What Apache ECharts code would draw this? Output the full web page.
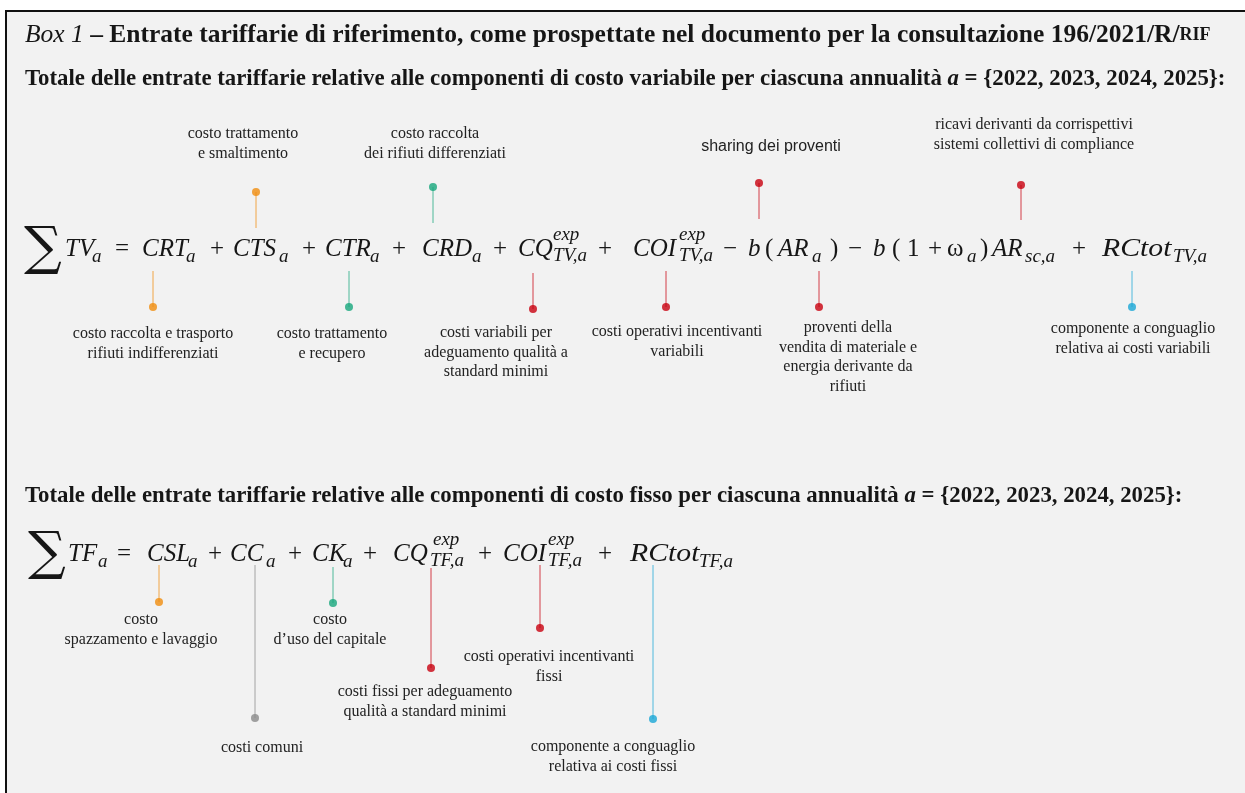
<!DOCTYPE html>
<html><head><meta charset="utf-8">
<script src="https://cdn.jsdelivr.net/npm/echarts@6/dist/echarts.min.js"></script>
<style>html,body{margin:0;padding:0;background:#fff}#c{width:1245px;height:793px}</style>
</head><body><div id="c"></div>
<script>
// ---------------- DATA ----------------
// Formula 1 (variable costs): tokens, kinds and their x value on the hidden axis
const f1Tokens = ['∑','TV','a','=','CRT','a','+','CTS','a','+','CTR','a','+','CRD','a','+','CQ','exp','TV,a','+','COI','exp','TV,a','−','b','(','AR','a',')','−','b','(','1','+','ω','a',')','AR','sc,a','+','RCtot','TV,a'];
const f1Kinds  = ['sum','m','sub','op','m','sub','op','m','sub','op','m','sub','op','m','sub','op','m','sup','ssub','op','m','sup','ssub','op','m','op','m','sub','op','op','m','op','op','op','w','sub','op','m','sub','op','mw','sub'];
const f1X      = [24,65,92,115,142,186,210,233,279,302,325,370,392,422,472,493,518,553,553,598,633,679,679,723,748,765,778,812,830,848,873,892,907,928,947,967,980,992,1025,1072,1102,1173];
const f1Base   = 257;
// Formula 2 (fixed costs)
const f2Tokens = ['∑','TF','a','=','CSL','a','+','CC','a','+','CK','a','+','CQ','exp','TF,a','+','COI','exp','TF,a','+','RCtot','TF,a'];
const f2Kinds  = ['sum','m','sub','op','m','sub','op','m','sub','op','m','sub','op','m','sup','ssub','op','m','sup','ssub','op','mw','sub'];
const f2X      = [28,68,98,117,147,188,208,230,266,288,312,343,363,393,433,430,478,503,548,548,598,630,699];
const f2Base   = 562;

// Annotations: label, anchor x, dot y, connector end y, label centre x, first line y, colour group
const annLabels = [
  'costo trattamento\ne smaltimento',
  'costo raccolta\ndei rifiuti differenziati',
  'sharing dei proventi',
  'ricavi derivanti da corrispettivi\nsistemi collettivi di compliance',
  'costo raccolta e trasporto\nrifiuti indifferenziati',
  'costo trattamento\ne recupero',
  'costi variabili per\nadeguamento qualità a\nstandard minimi',
  'costi operativi incentivanti\nvariabili',
  'proventi della\nvendita di materiale e\nenergia derivante da\nrifiuti',
  'componente a conguaglio\nrelativa ai costi variabili',
  'costo\nspazzamento e lavaggio',
  'costi comuni',
  'costo\nd’uso del capitale',
  'costi fissi per adeguamento\nqualità a standard minimi',
  'costi operativi incentivanti\nfissi',
  'componente a conguaglio\nrelativa ai costi fissi'
];
const annAnchorX = [256,433,759,1021,153,349,533,666,819,1132,159,255,333,431,540,653];
const annDotY    = [192,187,183,185,307,307,309,307,307,307,602,718,603,668,628,719];
const annEndY    = [228,223,219,220,271,271,273,271,271,271,565,565,567,568,565,565];
const annLabelX  = [243,435,771,1034,153,332,496,677,848,1133,141,262,330,425,549,613];
const annLabelY  = [134,134,147,125,334,334,333,332,328,329,620,748,620,692,657,747];
const annGroup   = ['orange','teal','red','red','orange','teal','red','red','red','blue','orange','gray','teal','red','red','blue'];
const annSans    = [false,false,true,false,false,false,false,false,false,false,false,false,false,false,false,false];

const titleText = 'Entrate tariffarie di riferimento, come prospettate nel documento per la consultazione 196/2021/R/';
const sub1Text = 'Totale delle entrate tariffarie relative alle componenti di costo variabile per ciascuna annualità ';
const sub2Text = 'Totale delle entrate tariffarie relative alle componenti di costo fisso per ciascuna annualità ';
const yearsText = ' = {2022, 2023, 2024, 2025}:';

// ---------------- STYLE ----------------
const groupColors = {orange:'#f08c0c', teal:'#17a67c', red:'#c8000f', blue:'#19a6d6', gray:'#8a8a8a'};
const ink = '#161616';
const SERIF = '"Liberation Serif", "Times New Roman", serif';
const kindStyle = {
  sum: {size:53, italic:false, dy:10, sx:1},
  m:   {size:25, italic:true,  dy:0,  sx:1},
  mw:  {size:25, italic:true,  dy:0,  sx:1.19},
  w:   {size:25, italic:false, dy:0,  sx:1},
  op:  {size:25, italic:false, dy:0,  sx:1},
  sub: {size:19, italic:true,  dy:6,  sx:1},
  sup: {size:19, italic:true,  dy:-16,sx:1},
  ssub:{size:19, italic:true,  dy:5,  sx:1}
};

function tokenData(tokens, kinds, xs, base){
  return tokens.map((t,i)=>({value:[xs[i], base], name:t, kind:kinds[i]}));
}
const allTokens = tokenData(f1Tokens,f1Kinds,f1X,f1Base).concat(tokenData(f2Tokens,f2Kinds,f2X,f2Base));

const chart = echarts.init(document.getElementById('c'), null, {renderer:'canvas'});
const option = {
  backgroundColor:'#ffffff',
  animation:false,
  grid:{left:0,right:0,top:0,bottom:0},
  xAxis:{type:'value',min:0,max:1245,show:false},
  yAxis:{type:'value',min:0,max:793,inverse:true,show:false},
  graphic:[
    {type:'rect', shape:{x:5,y:10,width:1240,height:783}, style:{fill:'#f2f2f2'}, z:-10},
    {type:'line', shape:{x1:5,y1:11,x2:1245,y2:11}, style:{stroke:'#111',lineWidth:2}, z:-9},
    {type:'line', shape:{x1:6,y1:10,x2:6,y2:793}, style:{stroke:'#111',lineWidth:2}, z:-9}
  ],
  title:[
    {left:25, top:22, padding:0, text:'{i|Box 1} – '+titleText+'{sc|RIF}',
     textStyle:{fontFamily:SERIF,fontSize:25.5,fontWeight:'bold',color:ink,
       rich:{i:{fontFamily:SERIF,fontSize:25.5,fontStyle:'italic',fontWeight:'normal',color:ink},
             sc:{fontFamily:SERIF,fontSize:18,fontWeight:'bold',color:ink}}}},
    {left:25, top:68, padding:0, text:sub1Text+'{i|a}'+yearsText,
     textStyle:{fontFamily:SERIF,fontSize:22.8,fontWeight:'bold',color:ink,
       rich:{i:{fontFamily:SERIF,fontSize:22.8,fontStyle:'italic',fontWeight:'bold',color:ink}}}},
    {left:25, top:485, padding:0, text:sub2Text+'{i|a}'+yearsText,
     textStyle:{fontFamily:SERIF,fontSize:22.8,fontWeight:'bold',color:ink,
       rich:{i:{fontFamily:SERIF,fontSize:22.8,fontStyle:'italic',fontWeight:'bold',color:ink}}}}
  ],
  series:[
    { // connectors
      type:'custom', coordinateSystem:'cartesian2d', silent:true,
      data: annAnchorX.map((x,i)=>[x, annDotY[i], annEndY[i]]),
      renderItem:function(params, api){
        const a = api.coord([api.value(0), api.value(1)]);
        const b = api.coord([api.value(0), api.value(2)]);
        return {type:'line', shape:{x1:a[0],y1:a[1],x2:b[0],y2:b[1]},
          style:{stroke:groupColors[annGroup[params.dataIndex]], lineWidth:1, opacity:0.75}};
      }
    },
    { // dots
      type:'scatter', symbol:'circle', symbolSize:8, silent:true, z:3,
      data: annAnchorX.map((x,i)=>[x, annDotY[i]]),
      itemStyle:{color:function(p){return groupColors[annGroup[p.dataIndex]];}}
    },
    { // annotation labels
      type:'custom', coordinateSystem:'cartesian2d', silent:true,
      data: annLabelX.map((x,i)=>[x, annLabelY[i]]),
      renderItem:function(params, api){
        const p = api.coord([api.value(0), api.value(1)]);
        const i = params.dataIndex;
        const sans = annSans[i];
        const lh = 19.5;
        return {type:'text', x:p[0], y:p[1]-lh/2,
          style:{text:annLabels[i], fill:'#222',
            font: sans ? '16px "Liberation Sans", Arial, sans-serif' : '16px '+SERIF,
            align:'center', verticalAlign:'top', textAlign:'center', textVerticalAlign:'top', lineHeight:lh}};
      }
    },
    { // formula tokens
      type:'custom', coordinateSystem:'cartesian2d', silent:true,
      data: allTokens,
      renderItem:function(params, api){
        const d = allTokens[params.dataIndex];
        const ks = kindStyle[d.kind];
        const p = api.coord([api.value(0), api.value(1)]);
        const fam = d.kind==='sum' ? '"DejaVu Serif", '+SERIF : SERIF;
        const font = (ks.italic?'italic ':'')+ks.size+'px '+fam;
        return {type:'text', x:p[0], y:p[1]+ks.dy - 0.32*ks.size, scaleX:ks.sx,
          style:{text:d.name, fill:ink, font:font, align:'left', verticalAlign:'middle',
            textAlign:'left', textVerticalAlign:'middle'}};
      }
    }
  ]
};
chart.setOption(option);
</script></body></html>
